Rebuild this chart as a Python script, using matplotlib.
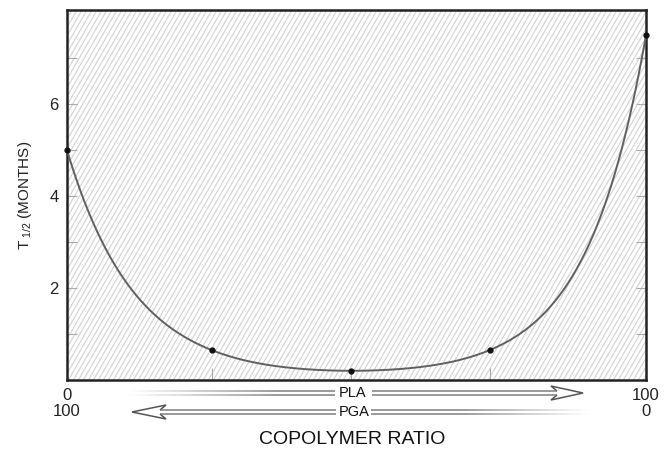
import numpy as np
import matplotlib
matplotlib.use("Agg")
import matplotlib.pyplot as plt
from matplotlib.collections import LineCollection
from matplotlib.patches import Rectangle, Polygon

# ---- data ----
pla_percent = [0, 25, 49, 73, 100]
half_life_months = [5.0, 0.65, 0.2, 0.65, 7.5]
y_major = [2, 4, 6]
y_minor = [1, 3, 5, 7]
x_tick_pos = [0, 25, 49, 73, 100]
x_tick_labels = ["0\n100", "", "", "", "100\n0"]

FONT = ["Liberation Sans Narrow", "Liberation Sans", "DejaVu Sans"]
plt.rcParams["font.family"] = FONT
plt.rcParams["mathtext.fontset"] = "custom"
plt.rcParams["mathtext.rm"] = "Liberation Sans"
plt.rcParams["mathtext.it"] = "Liberation Sans"

W, H = 669, 457
fig = plt.figure(figsize=(W / 100, H / 100), dpi=100)

# axes box in pixels
L, R, T, B = 67, 646, 10, 380

# overlay for decorations (pixel coordinates)
ov = fig.add_axes([0, 0, 1, 1], zorder=0)
ov.set_xlim(0, W)
ov.set_ylim(H, 0)
ov.axis("off")

ax = fig.add_axes([L / W, 1 - B / H, (R - L) / W, (B - T) / H], zorder=1)
ax.patch.set_alpha(0)

# hatch background (decoration)
clip = Rectangle((L, T), R - L, B - T, transform=ov.transData, facecolor="none", edgecolor="none")
ov.add_patch(clip)
dx = (B - T) / np.tan(np.radians(60))
segs = [[(x0, B), (x0 + dx, T)] for x0 in np.arange(L - dx - 10, R + 10, 5.0)]
lc = LineCollection(segs, colors="#d2d2d2", linewidths=0.8)
ov.add_collection(lc)
lc.set_clip_path(clip)


# smooth curve: natural cubic spline through the measured points in log space
def natural_spline(x, y, xs):
    x = np.asarray(x, float); y = np.asarray(y, float)
    n = len(x); h = np.diff(x)
    A = np.zeros((n, n)); r = np.zeros(n)
    A[0, 0] = A[-1, -1] = 1
    for i in range(1, n - 1):
        A[i, i - 1] = h[i - 1]; A[i, i] = 2 * (h[i - 1] + h[i]); A[i, i + 1] = h[i]
        r[i] = 6 * ((y[i + 1] - y[i]) / h[i] - (y[i] - y[i - 1]) / h[i - 1])
    M = np.linalg.solve(A, r)
    idx = np.clip(np.searchsorted(x, xs) - 1, 0, n - 2)
    x0, x1 = x[idx], x[idx + 1]; hh = x1 - x0
    a = (x1 - xs) / hh; b = (xs - x0) / hh
    return a * y[idx] + b * y[idx + 1] + ((a**3 - a) * M[idx] + (b**3 - b) * M[idx + 1]) * hh**2 / 6


xs = np.linspace(pla_percent[0], pla_percent[-1], 400)
ys = np.exp(natural_spline(pla_percent, np.log(half_life_months), xs))
ax.plot(xs, ys, color="#606060", lw=1.4, clip_on=False, zorder=3)
ax.plot(pla_percent, half_life_months, "o", color="#111111", ms=3.5, clip_on=False, zorder=4)

ax.set_xlim(0, 100)
ax.set_ylim(0, 8.05)
ax.set_yticks(y_major)
ax.set_yticks(y_minor, minor=True)
ax.set_yticklabels([str(v) for v in y_major], fontsize=12, color="#222222")
ax.set_xticks(x_tick_pos)
ax.set_xticklabels(x_tick_labels, fontsize=12, linespacing=1.05, color="#222222")
ax.tick_params(axis="both", which="both", direction="in", color="#aaaaaa", width=0.8)
ax.tick_params(axis="y", which="both", length=7, right=True, pad=6)
ax.tick_params(axis="x", which="both", length=9, pad=6)
for s in ax.spines.values():
    s.set_linewidth(1.8)
    s.set_color("#222222")

ax.set_ylabel(r"T$_{\ \mathrm{1/2}}$ (MONTHS)", fontsize=11, labelpad=11, color="#222222")


# arrows (decoration): double-line shafts with fading ends and hollow heads
def shaft(x0, x1, y, fade_from_left, gap):
    xsg = np.linspace(x0, x1, 220)
    for yy in (y - 2, y + 2):
        pts = []
        cols = []
        for a, b in zip(xsg[:-1], xsg[1:]):
            m = 0.5 * (a + b)
            if gap[0] < m < gap[1]:
                continue
            t = (m - x0) / (x1 - x0)
            alpha = min(1.0, t / 0.35) if fade_from_left else min(1.0, (1 - t) / 0.3)
            pts.append([(a, yy), (b, yy)])
            cols.append((0.45, 0.45, 0.45, 0.85 * alpha))
        ov.add_collection(LineCollection(pts, colors=cols, linewidths=1.2))


# PLA arrow -> right
shaft(130, 557, 393, True, (335, 371))
ov.add_patch(Polygon([(557, 391), (551, 386), (583, 393), (551, 400), (557, 395)],
                     closed=False, facecolor="white", edgecolor="#555555", lw=1.1))
# PGA arrow <- left
shaft(160, 588, 412, False, (335, 371))
ov.add_patch(Polygon([(160, 410), (166, 405), (132, 412), (166, 419), (160, 414)],
                     closed=False, facecolor="white", edgecolor="#555555", lw=1.1))

ov.text(353, 393, "PLA", ha="center", va="center", fontsize=10.5, color="#111111")
ov.text(354, 412, "PGA", ha="center", va="center", fontsize=10.5, color="#111111")
ov.text(352, 439, "COPOLYMER RATIO", ha="center", va="center", fontsize=14, color="#111111")

fig.savefig("out.png", dpi=100)
